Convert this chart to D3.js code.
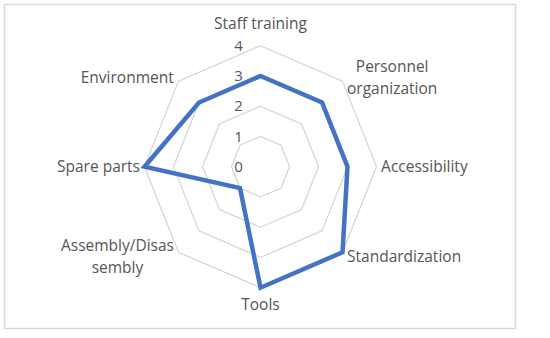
<!DOCTYPE html>
<html>
<head>
<meta charset="utf-8">
<script src="https://cdn.jsdelivr.net/npm/d3@7"></script>
<style>
  body { margin: 0; background: #fff; }
  svg { display: block; }
  text { font-family: "Open Sans", "Noto Sans", sans-serif; fill: #555555; }
</style>
</head>
<body>
<div id="chart"></div>
<script>
// data
const categories = ["Staff training", "Personnel organization", "Accessibility", "Standardization",
                    "Tools", "Assembly/Disassembly", "Spare parts", "Environment"];
const labelLines = [["Staff training"], ["Personnel", "organization"], ["Accessibility"], ["Standardization"],
                    ["Tools"], ["Assembly/Disas", "sembly"], ["Spare parts"], ["Environment"]];
const values = [3, 3, 3, 4, 4, 1, 4, 3];
const ticks = [0, 1, 2, 3, 4];

let width = 550,
    height = 338,
    cx = 260.5,
    cy = 166.7;

let svg = d3.select("#chart")
    .append("svg")
    .attr("width", width)
    .attr("height", height);

// frame
svg.append("rect")
    .attr("x", 4.5).attr("y", 4.5)
    .attr("width", 511).attr("height", 324)
    .attr("fill", "none")
    .attr("stroke", "#d9d9d9")
    .attr("stroke-width", 1.5);

let rX = d3.scaleLinear().domain([0, 4]).range([0, 116]);
let rY = d3.scaleLinear().domain([0, 4]).range([0, 121]);

// one step per category, starting at the top, clockwise
let step = 2 * Math.PI / categories.length;
function ang(i) { return i * step; }

function pt(i, v) {
    let a = ang(i);
    return [cx + rX(v) * Math.sin(a), cy - rY(v) * Math.cos(a)];
}

// grid octagons
let grid = svg.append("g").attr("class", "grid");
ticks.filter(t => t > 0).forEach(function(t) {
    grid.append("path")
        .attr("d", d3.line()(categories.map((c, i) => pt(i, t))) + "Z")
        .attr("fill", "none")
        .attr("stroke", "#d4d4d4")
        .attr("stroke-width", 1.2);
});

// tick labels
svg.append("g").attr("class", "ticks")
    .selectAll("text")
    .data(ticks)
    .enter()
    .append("text")
    .attr("x", cx - 22)
    .attr("y", d => cy - rY(d))
    .attr("dy", "0.35em")
    .attr("text-anchor", "middle")
    .style("font-size", "15px")
    .text(d => d);

// series
svg.append("path")
    .attr("d", d3.line()(values.map((v, i) => pt(i, v))) + "Z")
    .attr("fill", "none")
    .attr("stroke", "#4472c4")
    .attr("stroke-width", 4.5)
    .attr("stroke-linejoin", "miter");

// category labels
let lineH = 22;
let labels = svg.append("g").attr("class", "labels");
labelLines.forEach(function(lines, i) {
    let a = ang(i);
    let s = Math.sin(a), c = Math.cos(a);
    let v = pt(i, 4);
    let t = labels.append("text")
        .attr("text-anchor", "middle")
        .style("font-size", "15.5px");
    lines.forEach(function(l, k) {
        t.append("tspan")
            .attr("x", 0)
            .attr("y", (k - (lines.length - 1) / 2) * lineH)
            .attr("dy", "0.35em")
            .text(l);
    });
    let w = t.node().getBBox().width;
    let x, y;
    if (Math.abs(s) < 0.01) {
        x = v[0];
        y = v[1] + (c > 0 ? -22 : 17);
    } else {
        x = v[0] + (s > 0 ? 4.5 + w / 2 : -4.5 - w / 2);
        y = v[1] - c * 5.5;
    }
    t.attr("transform", "translate(" + x + "," + y + ")");
});
</script>
</body>
</html>
